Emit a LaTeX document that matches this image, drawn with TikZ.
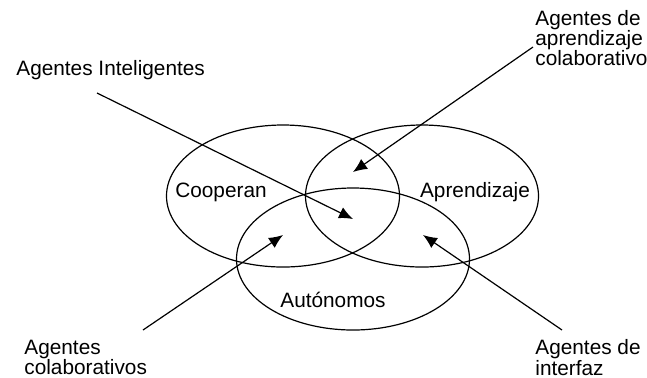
\documentclass[tikz,border=0pt]{standalone}
\usepackage{fontspec}
\setmainfont{Liberation Sans}
\usetikzlibrary{arrows.meta,shapes.geometric}
\usetikzlibrary{positioning}

\begin{document}
\begin{tikzpicture}[x=0.5pt,y=0.5pt,
  conjunto/.style={draw,ellipse,line width=0.6pt,minimum width=116.5pt,minimum height=71pt,inner sep=0pt},
  etiqueta/.style={inner sep=0pt,font=\fontsize{10.4}{10.2}\selectfont,align=left},
  flecha/.style={-{Latex[length=7pt,width=6pt]},line width=0.6pt}]
\useasboundingbox (0,0) rectangle (647,-377);

\node[conjunto] (coop) at (283,-196) {};
\node[conjunto] (apre) at (422,-196) {};
\node[conjunto] (auto) at (353,-259) {};

\node[etiqueta] (lcoop) at (221,-192) {Cooperan};
\node[etiqueta] (lapre) at (475,-192) {Aprendizaje};
\node[etiqueta] (lauto) at (333,-300) {Autónomos};

\node[etiqueta,anchor=west] (intel) at (16,-70) {Agentes Inteligentes};
\node[etiqueta,anchor=west] (apcol) at (535,-38) {Agentes de\\aprendizaje\\colaborativo};
\node[etiqueta,anchor=west] (colab) at (24,-357.5) {Agentes\\colaborativos};
\node[etiqueta,anchor=west] (inter) at (535,-357.5) {Agentes de\\interfaz};

\coordinate (a) at (97,-93);
\coordinate (b) at (533,-47);
\coordinate (c) at (143,-330);
\coordinate (d) at (562,-330);
\coordinate (pa) at (353,-219);
\coordinate (pb) at (353,-172);
\coordinate (pc) at (283,-235);
\coordinate (pd) at (423,-235);

\draw[flecha](a)--(pa);
\draw[flecha](b)--(pb);
\draw[flecha](c)--(pc);
\draw[flecha](d)--(pd);
\end{tikzpicture}
\end{document}
